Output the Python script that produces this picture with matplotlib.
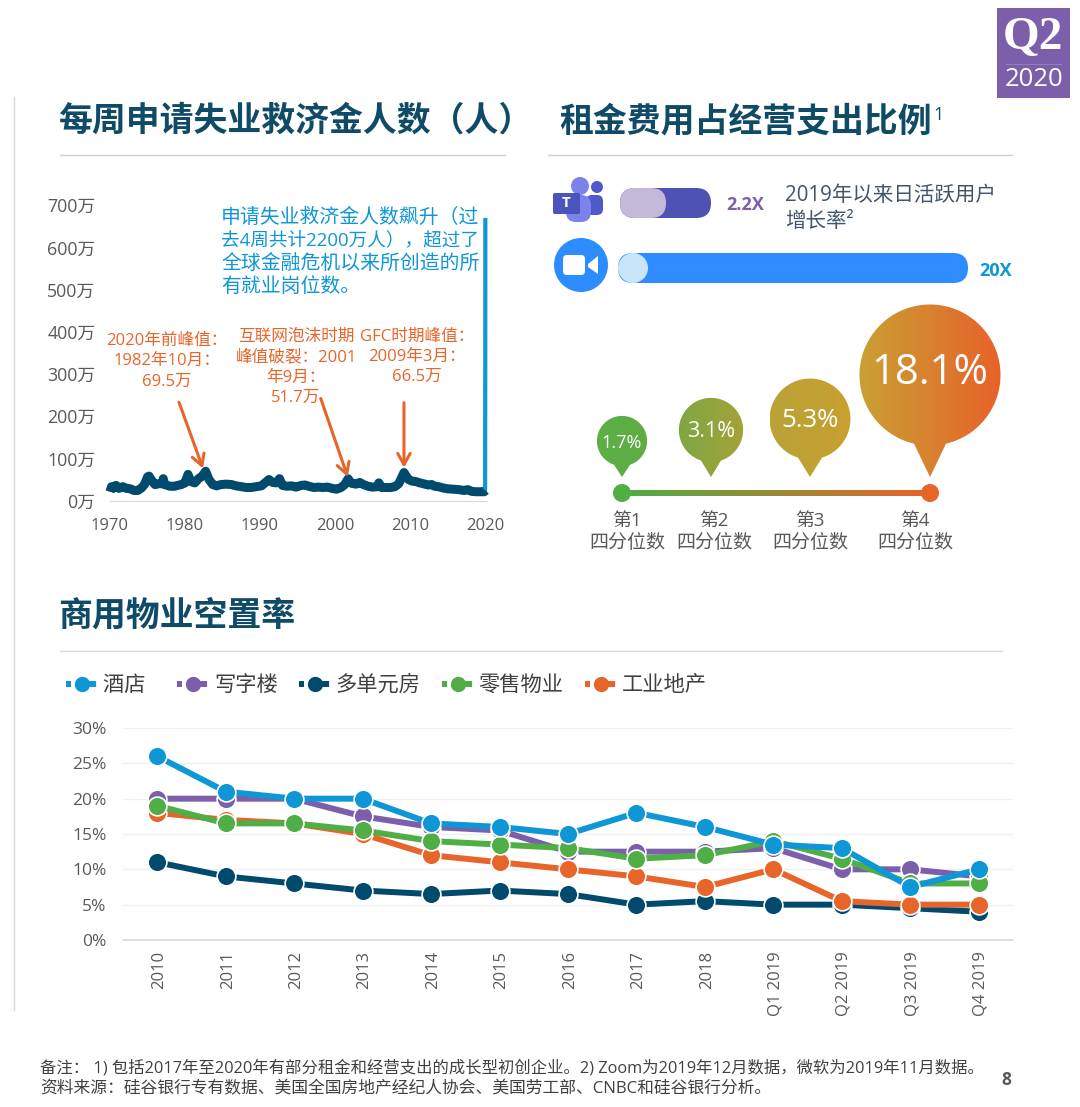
import matplotlib
matplotlib.use('Agg')
import matplotlib.pyplot as plt
import numpy as np
from matplotlib.colors import LinearSegmentedColormap
from matplotlib.lines import Line2D
from matplotlib.patches import Circle, FancyBboxPatch, Polygon, Rectangle
from matplotlib.transforms import ScaledTranslation

plt.rcParams['font.family'] = ['Open Sans', 'Noto Sans CJK SC', 'DejaVu Sans']

W, H = 1080, 1107
NAVY = '#004a6e'
BLUE = '#0f96d6'
PURPLE = '#7b5fab'
GREEN = '#4fae45'
ORANGE = '#e8652a'
TITLE = '#0f4a66'
GREY = '#595959'

# weekly claims, in units of 10 thousand
claim_years = [1970.0, 1970.2, 1970.5, 1970.8, 1971.2, 1971.7, 1972.2, 1972.7, 1973.2, 1973.7,
               1974.2, 1974.6, 1975.0, 1975.2, 1975.6, 1976.0, 1976.5, 1977.0, 1977.1, 1977.3,
               1978.0, 1978.6, 1979.0, 1979.5, 1980.0, 1980.4, 1980.8, 1981.3, 1981.8, 1982.3,
               1982.75, 1983.2, 1983.7, 1984.2, 1984.8, 1985.5, 1986.2, 1986.8, 1987.5, 1988.2,
               1988.8, 1989.5, 1990.2, 1990.8, 1991.2, 1991.7, 1992.2, 1992.6, 1993.0, 1993.6,
               1994.2, 1994.8, 1995.5, 1996.0, 1996.5, 1997.2, 1997.8, 1998.4, 1999.0, 1999.6,
               2000.2, 2000.8, 2001.3, 2001.75, 2002.2, 2002.8, 2003.3, 2003.8, 2004.4, 2005.0,
               2005.7, 2005.85, 2006.2, 2006.8, 2007.4, 2008.0, 2008.5, 2008.9, 2009.2, 2009.8,
               2010.3, 2010.8, 2011.3, 2011.8, 2012.4, 2012.9, 2013.3, 2013.8, 2014.4, 2015.0,
               2015.8, 2016.5, 2017.2, 2017.7, 2018.2, 2018.8, 2019.4, 2019.9, 2020.05]
claim_values = [21, 33, 30, 36, 29, 33, 29, 28, 24, 24,
                30, 38, 56, 58, 47, 38, 40, 40, 52, 38,
                34, 34, 36, 38, 42, 62, 45, 42, 52, 58,
                69.5, 50, 38, 35, 38, 39, 38, 35, 33, 31,
                31, 33, 35, 44, 50, 43, 42, 52, 36, 34,
                35, 32, 36, 37, 34, 31, 32, 31, 32, 29,
                27, 31, 38, 51.7, 41, 39, 43, 38, 34, 32,
                33, 42, 31, 31, 31, 33, 40, 55, 66.5, 50,
                46, 45, 42, 40, 37, 38, 34, 33, 30, 28,
                27, 26, 24, 26, 22, 21, 21, 21, 24]
spike_years = [2020.0, 2020.02, 2020.04, 2020.05]
spike_values = [21, 33, 330, 665]
claim_yticks = [0, 100, 200, 300, 400, 500, 600, 700]
claim_xticks = [1970, 1980, 1990, 2000, 2010, 2020]

# daily active user growth
growth_labels = ['2.2X', '20X']

# rent share by quartile
quartile_names = ['第1', '第2', '第3', '第4']
quartile_values = [1.7, 3.1, 5.3, 18.1]

# vacancy rates
periods = ['2010', '2011', '2012', '2013', '2014', '2015', '2016', '2017', '2018',
           'Q1 2019', 'Q2 2019', 'Q3 2019', 'Q4 2019']
hotel = [26, 21, 20, 20, 16.5, 16, 15, 18, 16, 13.5, 13, 7.5, 10]
office = [20, 20, 20, 17.5, 16, 15.5, 12.5, 12.5, 12.5, 13, 10, 10, 9]
multifamily = [11, 9, 8, 7, 6.5, 7, 6.5, 5, 5.5, 5, 5, 4.5, 4]
retail = [19, 16.5, 16.5, 15.5, 14, 13.5, 13, 11.5, 12, 14, 11.5, 8, 8]
industrial = [18, 17, 16.5, 15, 12, 11, 10, 9, 7.5, 10, 5.5, 5, 5]

fig = plt.figure(figsize=(W / 100, H / 100), dpi=100, facecolor='white')

# page layer, in pixel coordinates of the slide
page = fig.add_axes([0, 0, 1, 1])
page.set_xlim(0, W)
page.set_ylim(H, 0)
page.axis('off')


def axes_px(left, top, right, bottom):
    return fig.add_axes([left / W, 1 - bottom / H, (right - left) / W, (bottom - top) / H],
                        facecolor='none')


def label(x, y, s, size, color=GREY, ha='left', **kw):
    # the CJK fonts sit a little high when centred
    page.text(x, y + 2.5, s, fontsize=size, color=color, ha=ha, va='center', **kw)


def gradient(extent, c0, c1, clip):
    cmap = LinearSegmentedColormap.from_list('g', [c0, c1])
    im = page.imshow(np.linspace(0, 1, 256).reshape(1, -1), cmap=cmap, extent=extent,
                     aspect='auto', zorder=3)
    im.set_clip_path(clip)


def teardrop(cx, cy, r, tip_y, w):
    a = np.arcsin(w / r)
    t = np.linspace(a, 2 * np.pi - a, 120)
    pts = np.column_stack([cx + r * np.sin(t), cy + r * np.cos(t)])
    pts = np.vstack([pts, [cx, tip_y], pts[0]])
    return Polygon(pts, closed=True, fc='none', ec='none')


# frame lines
page.plot([14, 14], [97, 1010], color='#d9d9d9', lw=1)
page.plot([60, 505], [155, 155], color='#d0d0d0', lw=1)
page.plot([548, 1012], [155, 155], color='#d0d0d0', lw=1)
page.plot([60, 1002], [651, 651], color='#d9d9d9', lw=1)

# Q2 badge
page.add_patch(Rectangle((997, 8), 73, 90, fc=PURPLE, ec='none'))
page.text(1033, 38, 'Q2', fontsize=34, color='white', weight='bold', ha='center', va='center',
          family='Liberation Serif')
page.plot([1006, 1061], [64, 64], color='#9a84c2', lw=0.6)
page.text(1034, 80, '2020', fontsize=18.5, color='white', ha='center', va='center')

# section titles
for x, y, s in [(58.5, 120, '每周申请失业救济金人数（人）'), (559, 121, '租金费用占经营支出比例'),
                (58.5, 615, '商用物业空置率')]:
    page.text(x, y, s, fontsize=24.4, color=TITLE, weight='bold', va='center',
              family='Noto Sans CJK SC')
page.text(933, 115, '1', fontsize=13, color=TITLE, va='center')

# weekly claims chart
ax1 = axes_px(110, 205.2, 487, 500.6)
ax1.plot(claim_years, claim_values, color=NAVY, lw=6.5, solid_joinstyle='round', solid_capstyle='butt',
         clip_on=False, zorder=3)
ax1.plot(spike_years, spike_values, color=BLUE, lw=3, clip_on=False, zorder=2)
ax1.set_xlim(1970, 2020.27)
ax1.set_ylim(0, 700)
ax1.set_xticks(claim_xticks)
ax1.set_yticks(claim_yticks)
ax1.set_yticklabels([f'{v}万' for v in claim_yticks])
ax1.tick_params(length=0, labelsize=12, labelcolor=GREY)
ax1.tick_params(axis='x', pad=12.5)
ax1.tick_params(axis='y', pad=10.5, labelsize=12.8)
for side in ['top', 'right', 'left']:
    ax1.spines[side].set_visible(False)
ax1.spines['bottom'].set_color('#d9d9d9')

blue_note = ['申请失业救济金人数飙升（过', '去4周共计2200万人），超过了', '全球金融危机以来所创造的所', '有就业岗位数。']
note_sizes = [14.3, 13.4, 14.3, 14.3]
for i, (s, size) in enumerate(zip(blue_note, note_sizes)):
    label(221, 215 + i * 23, s, size, color=BLUE)

orange_notes = [(167, [338, 358.5, 379], ['2020年前峰值：', '1982年10月：', '69.5万']),
                (296, [334, 355, 375, 395], ['互联网泡沫时期', '峰值破裂：2001', '年9月：', '51.7万']),
                (417, [334, 354, 374], ['GFC时期峰值：', '2009年3月：', '66.5万'])]
for cx, ys, lines in orange_notes:
    for y, s in zip(ys, lines):
        label(cx, y, s, 12, color=ORANGE, ha='center')

arrows = [((1982.4, 76), (1979.2, 233)), ((2001.7, 56), (1998.1, 242)), ((2009.2, 78), (2009.2, 232))]
for tip, tail in arrows:
    ax1.annotate('', xy=tip, xytext=tail,
                 arrowprops=dict(arrowstyle='->,head_length=0.8,head_width=0.45', color=ORANGE, lw=2.2,
                                 shrinkA=0, shrinkB=0))

# app growth bars
page.add_patch(FancyBboxPatch((620, 188), 91, 30, boxstyle='round,pad=0,rounding_size=15', fc='#4f52b2', ec='none'))
page.add_patch(FancyBboxPatch((620, 188), 46, 30, boxstyle='round,pad=0,rounding_size=15', fc='#c5b9d9', ec='none'))
page.add_patch(FancyBboxPatch((618, 253), 350, 30, boxstyle='round,pad=0,rounding_size=15', fc='#2d8cff', ec='none'))
page.add_patch(Circle((633, 268), 15, fc='#c7e6f9', ec='none'))
label(726, 202.5, growth_labels[0], 13, color=PURPLE, weight='bold')
label(979, 268.5, growth_labels[1], 13, color=BLUE, weight='bold')
label(785, 193, '2019年以来日活跃用户', 14.8, color='#44546a')
label(785, 219, '增长率²', 14.8, color='#44546a')

# Teams icon
page.add_patch(Circle((597, 187), 6, fc='#5059c9', ec='none'))
page.add_patch(FancyBboxPatch((586, 195), 17, 20, boxstyle='round,pad=0,rounding_size=6', fc='#5059c9', ec='none'))
page.add_patch(Circle((580, 186), 9, fc='#7b83eb', ec='none'))
page.add_patch(FancyBboxPatch((566, 195), 25, 27, boxstyle='round,pad=0,rounding_size=10', fc='#7b83eb', ec='none'))
page.add_patch(FancyBboxPatch((553, 193), 27, 21, boxstyle='round,pad=0,rounding_size=2', fc='#4b53bc', ec='none'))
page.text(566, 203, 'T', fontsize=11, color='white', weight='bold', ha='center', va='center')

# Zoom icon
page.add_patch(Circle((581, 265), 27, fc='#2d8cff', ec='none'))
page.add_patch(FancyBboxPatch((563, 255), 22, 20, boxstyle='round,pad=0,rounding_size=4', fc='white', ec='none'))
page.add_patch(Polygon([(588, 264), (598, 256), (598, 274), (588, 267)], fc='white', ec='none'))

# quartile bubbles, bubble radius follows the square root of the value
bubble_x = [622, 711, 810, 930]
bubble_cy = [441, 430, 419, 375]
bubble_colors = [('#5bb046', '#60ab44'), ('#7da842', '#a5a238'), ('#b9a338', '#c9a030'), ('#c9a033', '#e8622a')]
text_sizes = [13, 15.5, 18.5, 30]
text_dy = [1.5, 1.5, 1.5, -2]
tip_w = [8, 10, 12, 16]
tip_y = 477
axis_y = 493
for x, cy, v, (c0, c1), ts, dy, w in zip(bubble_x, bubble_cy, quartile_values, bubble_colors, text_sizes, text_dy, tip_w):
    r = 5 + 15.4 * np.sqrt(v)
    shape = teardrop(x, cy, r, tip_y, w)
    page.add_patch(shape)
    gradient((x - r, x + r, max(cy + r, tip_y), cy - r), c0, c1, shape)
    page.text(x, cy + dy, f'{v}%', fontsize=ts, color='white', ha='center', va='center', zorder=5)

bar = Rectangle((622, axis_y - 3), 308, 6, fc='none', ec='none')
page.add_patch(bar)
gradient((622, 930, axis_y + 3, axis_y - 3), '#4fae45', ORANGE, bar)
page.add_patch(Circle((622, axis_y), 9, fc=GREEN, ec='none', zorder=4))
page.add_patch(Circle((930, axis_y), 9, fc=ORANGE, ec='none', zorder=4))
for cx, s in zip([627, 714, 810, 915], quartile_names):
    label(cx, 518, s, 13.5, ha='center')
    label(cx, 540, '四分位数', 13.7, ha='center')

# vacancy chart
ax2 = axes_px(123, 728, 1013, 940)
series = [('酒店', hotel, BLUE, 6), ('写字楼', office, PURPLE, 2), ('多单元房', multifamily, NAVY, 1),
          ('零售物业', retail, GREEN, 4), ('工业地产', industrial, ORANGE, 3)]
handles = []
for name, values, color, z in series:
    ax2.plot(periods, values, color=color, lw=4.3, marker='o', ms=13.5, mfc=color, mec='white', mew=1.2,
             zorder=z, clip_on=False)
    handles.append(Line2D([], [], color=color, lw=4.3, dashes=(0.84, 2.7, 1.5, 9), dash_capstyle='butt',
                          marker='o', ms=10, mfc=color, mec=color, label=name))
ax2.set_xlim(-0.5, 12.5)
ax2.set_ylim(0, 30)
ax2.set_yticks([0, 5, 10, 15, 20, 25, 30])
ax2.set_yticklabels(['0%', '5%', '10%', '15%', '20%', '25%', '30%'])
ax2.tick_params(length=0, labelsize=12.5, labelcolor=GREY)
ax2.tick_params(axis='x', labelrotation=90, labelsize=12, pad=8)
ax2.tick_params(axis='y', pad=12)
ax2.grid(axis='y', color='#f0f0f0', lw=1)
ax2.set_axisbelow(True)
for side in ['top', 'right', 'left']:
    ax2.spines[side].set_visible(False)
ax2.spines['bottom'].set_color('#d9d9d9')
ax2.spines['bottom'].set_linewidth(1.2)
nudge = ScaledTranslation(2 / 100, 0, fig.dpi_scale_trans)
for lab in ax2.get_xticklabels():
    lab.set_transform(lab.get_transform() + nudge)

handles[0].set_label('酒店\u2002')
page.legend(handles=handles, loc='center left', bbox_to_anchor=(66, 685.5), bbox_transform=page.transData,
            ncols=5, frameon=False, prop={'size': 15.3}, labelcolor='#404040', borderpad=0, borderaxespad=0,
            handlelength=1.47, handletextpad=0.26, columnspacing=1.0, numpoints=1)

# footer
label(40, 1066, '备注： 1) 包括2017年至2020年有部分租金和经营支出的成长型初创企业。2) Zoom为2019年12月数据，微软为2019年11月数据。', 11.75, color='#404040')
label(40, 1087, '资料来源：硅谷银行专有数据、美国全国房地产经纪人协会、美国劳工部、CNBC和硅谷银行分析。', 12.08, color='#404040')
label(1006, 1077.5, '8', 12.5, color=GREY, ha='center', weight='bold')

page.set_xlim(0, W)
page.set_ylim(H, 0)
plt.savefig('out.png', dpi=100)
